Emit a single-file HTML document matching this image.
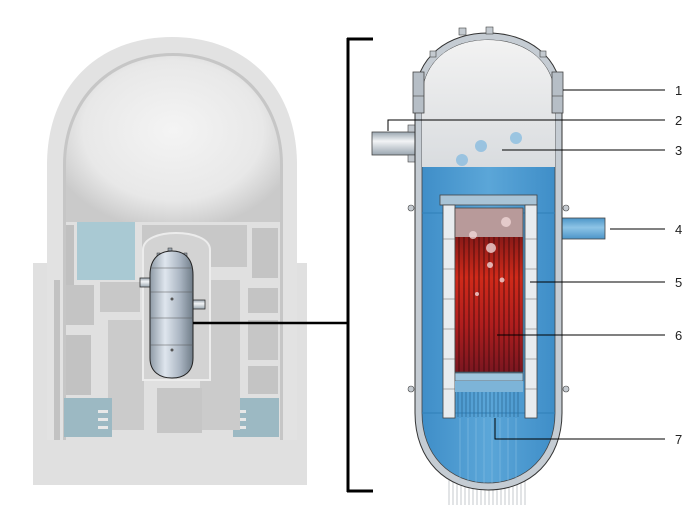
<!DOCTYPE html>
<html><head><meta charset="utf-8"><style>
html,body{margin:0;padding:0;background:#fff;}
svg{display:block}
text{font-family:"Liberation Sans",sans-serif;font-size:13px;fill:#222}
</style></head><body>
<svg width="700" height="525" viewBox="0 0 700 525" xmlns="http://www.w3.org/2000/svg">
<defs>
<radialGradient id="dome" cx="0.5" cy="0.45" r="0.6">
<stop offset="0" stop-color="#f4f4f4"/><stop offset="0.7" stop-color="#e8e8e8"/><stop offset="1" stop-color="#cacaca"/>
</radialGradient>
<linearGradient id="steel" x1="0" x2="1">
<stop offset="0" stop-color="#8e9aa6"/><stop offset="0.35" stop-color="#dfe6ee"/><stop offset="0.7" stop-color="#aab5c2"/><stop offset="1" stop-color="#6f7c88"/>
</linearGradient>
<linearGradient id="gas" x1="0" y1="0" x2="0" y2="1">
<stop offset="0" stop-color="#f2f2f2"/><stop offset="1" stop-color="#d9dcdf"/>
</linearGradient>
<linearGradient id="water" x1="0" x2="1">
<stop offset="0" stop-color="#3f8ec8"/><stop offset="0.5" stop-color="#5ba6d8"/><stop offset="1" stop-color="#3f8ec8"/>
</linearGradient>
<linearGradient id="core" x1="0" y1="0" x2="0" y2="1">
<stop offset="0" stop-color="#8a1a18"/><stop offset="0.3" stop-color="#d02a1a"/><stop offset="0.65" stop-color="#b01e1e"/><stop offset="1" stop-color="#7a1620"/>
</linearGradient>
<linearGradient id="pipe" x1="0" y1="0" x2="0" y2="1">
<stop offset="0" stop-color="#9aa6b0"/><stop offset="0.4" stop-color="#f2f4f6"/><stop offset="1" stop-color="#9aa6b0"/>
</linearGradient>
<linearGradient id="pipeb" x1="0" y1="0" x2="0" y2="1">
<stop offset="0" stop-color="#4c95c8"/><stop offset="0.45" stop-color="#8ec4e6"/><stop offset="1" stop-color="#4c95c8"/>
</linearGradient>
</defs>

<!-- LEFT BUILDING -->
<rect x="33" y="263" width="274" height="222" fill="#e0e0e0"/>
<path d="M47,485 L47,165 C47,85 100,37 172,37 C244,37 297,85 297,165 L297,485 Z" fill="#e2e2e2"/>
<path d="M63,440 L63,165 C63,98 110,53 173,53 C236,53 283,98 283,165 L283,440 Z" fill="#c6c6c6"/>
<path d="M66,222 L66,165 C66,100 112,56 173,56 C234,56 280,100 280,165 L280,222 Z" fill="url(#dome)"/>
<rect x="66" y="222" width="214" height="218" fill="#e0e0e0"/>
<rect x="77" y="222" width="58" height="58" fill="#a9c9d3"/>
<rect x="66" y="225" width="8" height="70" fill="#c0c0c0"/>
<rect x="54" y="280" width="6" height="160" fill="#c2c2c2"/>
<rect x="66" y="285" width="28" height="40" fill="#c4c4c4"/>
<rect x="66" y="335" width="25" height="60" fill="#c2c2c2"/>
<rect x="100" y="282" width="40" height="30" fill="#c8c8c8"/>
<rect x="108" y="320" width="36" height="110" fill="#cbcbcb"/>
<rect x="64" y="398" width="48" height="39" fill="#9cb9c3"/>
<rect x="98" y="410" width="10" height="3" fill="#e8e8e8"/><rect x="98" y="418" width="10" height="3" fill="#e8e8e8"/><rect x="98" y="426" width="10" height="3" fill="#e8e8e8"/>
<rect x="233" y="398" width="46" height="39" fill="#9cb9c3"/>
<rect x="236" y="410" width="10" height="3" fill="#e8e8e8"/><rect x="236" y="418" width="10" height="3" fill="#e8e8e8"/><rect x="236" y="426" width="10" height="3" fill="#e8e8e8"/>
<rect x="142" y="225" width="105" height="42" fill="#c8c8c8"/>
<rect x="252" y="228" width="26" height="50" fill="#c4c4c4"/>
<rect x="248" y="288" width="30" height="25" fill="#c4c4c4"/>
<rect x="248" y="320" width="30" height="40" fill="#c6c6c6"/>
<rect x="248" y="366" width="30" height="28" fill="#c4c4c4"/>
<rect x="200" y="280" width="40" height="150" fill="#cbcbcb"/>
<path d="M143,380 L143,250 C143,238 160,233 176,233 C192,233 210,238 210,250 L210,380 Z" fill="#d3d3d3" stroke="#ececec" stroke-width="2"/>
<rect x="157" y="388" width="45" height="45" fill="#c6c6c6"/>
<rect x="33" y="440" width="274" height="45" fill="#e0e0e0"/>
<!-- small vessel -->
<g fill="#9aa4ae" stroke="#333" stroke-width="0.5">
<rect x="168" y="248" width="4" height="3"/><rect x="157" y="253" width="3" height="3"/><rect x="184" y="253" width="3" height="3"/>
</g>
<rect x="140" y="278" width="12" height="9" fill="url(#pipe)" stroke="#333" stroke-width="0.8"/>
<rect x="192" y="300" width="13" height="9" fill="url(#pipe)" stroke="#333" stroke-width="0.8"/>
<path d="M150,275 C150,258 160,251 172,251 C184,251 193,258 193,275 L193,358 C193,372 184,378 172,378 C160,378 150,372 150,358 Z" fill="url(#steel)" stroke="#222" stroke-width="1"/>
<g stroke="#555" stroke-width="0.6" fill="none"><path d="M150,268 H193 M150,292 H193 M150,318 H193 M150,345 H193"/></g>
<circle cx="172" cy="299" r="1.5" fill="#555"/><circle cx="172" cy="350" r="1.5" fill="#555"/>
<!-- connector line and bracket -->
<line x1="193" y1="323" x2="348" y2="323" stroke="#000" stroke-width="2.5"/>
<line x1="348" y1="38" x2="348" y2="492" stroke="#000" stroke-width="3"/>
<line x1="347" y1="39" x2="373" y2="39" stroke="#000" stroke-width="3"/>
<line x1="347" y1="491" x2="373" y2="491" stroke="#000" stroke-width="3"/>

<!-- RIGHT REACTOR -->
<g stroke="#b8bcc0" stroke-width="0.8">
<path d="M449,480 V505 M453,480 V505 M457,480 V505 M461,480 V505 M465,480 V505 M469,480 V505 M473,480 V505 M477,480 V505 M481,480 V505 M485,480 V505 M489,480 V505 M493,480 V505 M497,480 V505 M501,480 V505 M505,480 V505 M509,480 V505 M513,480 V505 M517,480 V505 M521,480 V505 M525,480 V505"/>
</g>
<rect x="372" y="132" width="52" height="23" fill="url(#pipe)" stroke="#444" stroke-width="0.8"/>
<rect x="408" y="125" width="8" height="7" fill="#c0c6cc" stroke="#444" stroke-width="0.6"/>
<rect x="408" y="155" width="8" height="7" fill="#c0c6cc" stroke="#444" stroke-width="0.6"/>
<rect x="553" y="218" width="52" height="21" fill="url(#pipeb)" stroke="#444" stroke-width="0.8"/>
<rect x="553" y="212" width="8" height="6" fill="#c0c6cc" stroke="#444" stroke-width="0.6"/>
<rect x="553" y="239" width="8" height="6" fill="#c0c6cc" stroke="#444" stroke-width="0.6"/>
<path d="M415,100 C415,55 450,33 488,33 C526,33 562,55 562,100 L562,413 C562,460 530,490 488,490 C446,490 415,460 415,413 Z" fill="#c5ccd3" stroke="#333" stroke-width="1"/>
<g fill="#c4cad0" stroke="#444" stroke-width="0.6">
<rect x="459" y="28" width="7" height="7"/><rect x="486" y="27" width="7" height="7"/>
<rect x="430" y="51" width="6" height="6"/><rect x="540" y="51" width="6" height="6"/>
<circle cx="411" cy="208" r="3"/><circle cx="566" cy="208" r="3"/>
<circle cx="411" cy="389" r="3"/><circle cx="566" cy="389" r="3"/>
</g>
<path d="M422,100 C422,60 452,40 488,40 C524,40 555,60 555,100 L555,413 C555,455 526,483 488,483 C450,483 422,455 422,413 Z" fill="url(#water)" stroke="#444" stroke-width="0.8"/>
<path d="M422,167 L422,100 C422,60 452,40 488,40 C524,40 555,60 555,100 L555,167 Z" fill="url(#gas)"/>
<g stroke="#8fc4e6" stroke-width="1" opacity="0.5">
<path d="M460,418 V480 M468,418 V482 M476,418 V483 M484,418 V483 M492,418 V483 M500,418 V483 M508,418 V482 M516,418 V480"/>
</g>
<rect x="413" y="72" width="11" height="41" fill="#b6bec6" stroke="#444" stroke-width="0.8"/>
<rect x="552" y="72" width="11" height="41" fill="#b6bec6" stroke="#444" stroke-width="0.8"/>
<line x1="413" y1="96" x2="424" y2="96" stroke="#444" stroke-width="0.6"/>
<line x1="552" y1="96" x2="563" y2="96" stroke="#444" stroke-width="0.6"/>
<g fill="#8fbfe0" opacity="0.85">
<circle cx="481" cy="146" r="6"/><circle cx="516" cy="138" r="6"/><circle cx="462" cy="160" r="6"/>
</g>
<rect x="422" y="212" width="133" height="2" fill="#2f7fb8" opacity="0.5"/>
<rect x="422" y="412" width="133" height="2" fill="#2f7fb8" opacity="0.5"/>
<rect x="440" y="195" width="97" height="10" fill="#a9c4d6" stroke="#444" stroke-width="0.8"/>
<rect x="443" y="205" width="12" height="213" fill="#e8ecef" stroke="#444" stroke-width="0.8"/>
<rect x="525" y="205" width="12" height="213" fill="#e8ecef" stroke="#444" stroke-width="0.8"/>
<g stroke="#666" stroke-width="0.6">
<path d="M443,239 H455 M443,269 H455 M443,299 H455 M443,329 H455 M443,359 H455 M443,389 H455"/>
<path d="M525,239 H537 M525,269 H537 M525,299 H537 M525,329 H537 M525,359 H537 M525,389 H537"/>
</g>
<rect x="455" y="208" width="68" height="29" fill="#b89a9a"/>
<rect x="455" y="237" width="68" height="135" fill="url(#core)"/>
<g stroke="#3a0a0a" stroke-width="0.8">
<path d="M459,237 V372 M464,237 V372 M469,237 V372 M474,237 V372 M479,237 V372 M484,237 V372 M489,237 V372 M494,237 V372 M499,237 V372 M504,237 V372 M509,237 V372 M514,237 V372 M519,237 V372"/>
</g>
<rect x="455" y="208" width="68" height="164" fill="none" stroke="#444" stroke-width="0.8"/>
<g fill="#f0d6d6" opacity="0.8">
<circle cx="506" cy="222" r="5"/><circle cx="473" cy="235" r="4"/><circle cx="491" cy="248" r="5"/><circle cx="490" cy="265" r="3"/><circle cx="502" cy="280" r="2.5"/><circle cx="477" cy="294" r="2"/>
</g>
<rect x="455" y="373" width="68" height="8" fill="#9fc6de" stroke="#444" stroke-width="0.6"/>
<rect x="455" y="381" width="68" height="11" fill="#7db4d8"/>
<g stroke="#2e6c98" stroke-width="0.8">
<path d="M458,392 V417 M462,392 V417 M466,392 V417 M470,392 V417 M474,392 V417 M478,392 V417 M482,392 V417 M486,392 V417 M490,392 V417 M494,392 V417 M498,392 V417 M502,392 V417 M506,392 V417 M510,392 V417 M514,392 V417 M518,392 V417"/>
</g>
<g stroke="#000" stroke-width="1" fill="none">
<path d="M563,90 H665"/>
<path d="M388,131 V120 H665"/>
<path d="M502,150 H665"/>
<path d="M610,229 H665"/>
<path d="M530,282 H665"/>
<path d="M497,335 H665"/>
<path d="M495,418 V439 H665"/>
</g>
<text x="675" y="95">1</text>
<text x="675" y="125">2</text>
<text x="675" y="155">3</text>
<text x="675" y="234">4</text>
<text x="675" y="287">5</text>
<text x="675" y="340">6</text>
<text x="675" y="444">7</text>
</svg>
</body></html>
